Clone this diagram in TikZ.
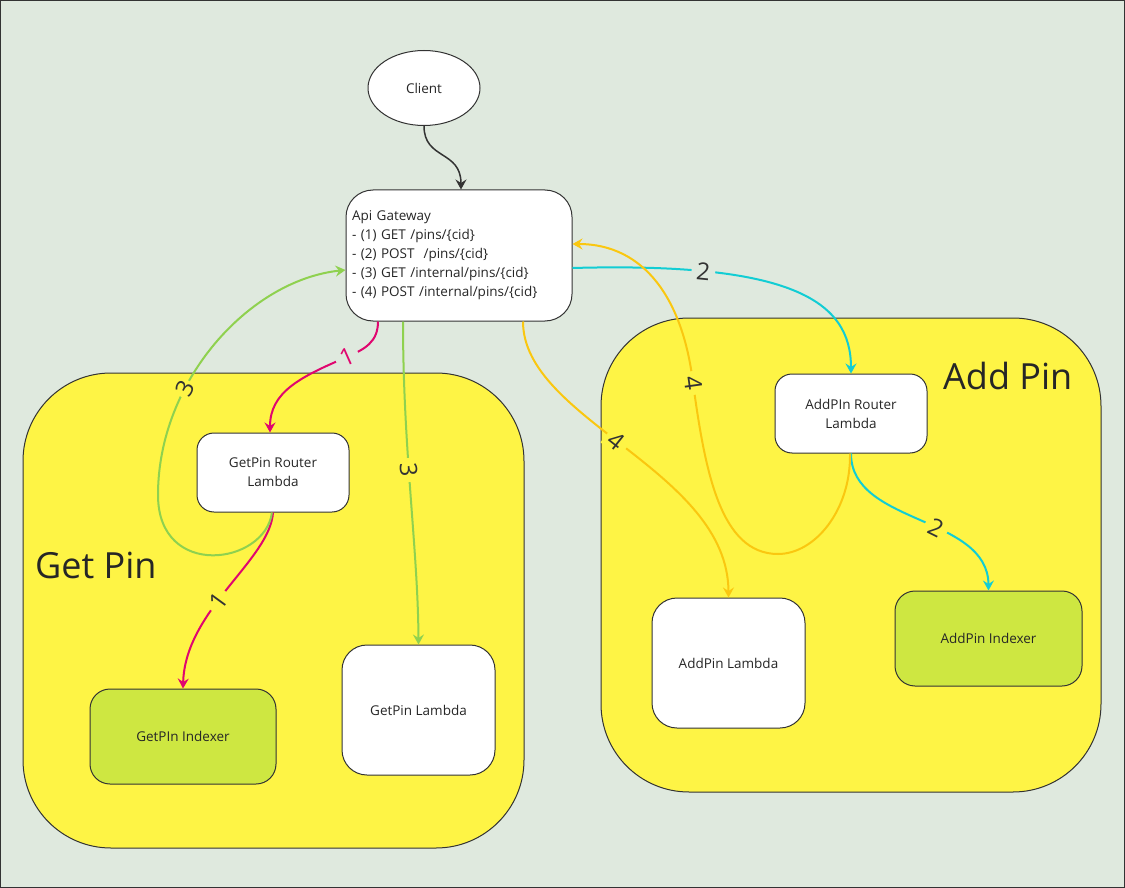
\documentclass[tikz,border=0pt]{standalone}
\usepackage{fontspec}
\setmainfont{Open Sans}
\usetikzlibrary{arrows.meta,shapes.geometric}
\definecolor{bggreen}{HTML}{DFE9DE}
\definecolor{groupyellow}{HTML}{FEF445}
\definecolor{indexgreen}{HTML}{CEE741}
\definecolor{flowpink}{HTML}{E0066F}
\definecolor{flowgreen}{HTML}{8FD14F}
\definecolor{flowcyan}{HTML}{12CDD4}
\definecolor{floworange}{HTML}{FAC710}
\definecolor{edgegrey}{HTML}{333333}
\begin{document}
\begin{tikzpicture}[x=1pt,y=-1pt,
	box/.style={draw=edgegrey,line width=1pt,fill=white,rounded corners=17pt,align=center,text=black!85,font=\fontsize{13.5}{19}\selectfont,inner sep=0pt},
	group/.style={draw=edgegrey,line width=1pt,fill=groupyellow,rounded corners=88pt},
	flow/.style={line width=2pt,-{Stealth[length=10pt,width=11pt,inset=3.5pt]}},
	lbl/.style={font=\fontsize{24}{24}\selectfont,text=edgegrey,fill=groupyellow,inner xsep=5pt,inner ysep=2pt,sloped}]
	\useasboundingbox (0,0) rectangle (1125,888);
	\draw[fill=bggreen,draw=edgegrey,line width=1.5pt] (0,0) rectangle (1125,888);
	% groups
	\draw[group] (23,373) rectangle (524,848);
	\draw[group] (601,318) rectangle (1101,792);
	\node[anchor=base west,inner sep=0pt,font=\fontsize{36}{36}\selectfont,text=black!85] at (35,578) (getlabel) {Get Pin};
	\node[anchor=base west,inner sep=0pt,font=\fontsize{36}{36}\selectfont,text=black!85] at (943,389) (addlabel) {Add Pin};
	% nodes
	\node[ellipse,draw=edgegrey,fill=white,line width=1pt,minimum width=112pt,minimum height=75pt,text=black!85,font=\fontsize{13.5}{19}\selectfont] at (424,88) (client) {Client};
	\node[box,rounded corners=27pt,text width=214pt,minimum height=131pt,align=left,inner xsep=6pt] at (459,255.5) (gw) {Api Gateway\\- (1) GET /pins/\{cid\}\\- (2) POST \ /pins/\{cid\}\\- (3) GET /internal/pins/\{cid\}\\- (4) POST /internal/pins/\{cid\}};
	\node[box,minimum width=152pt,minimum height=79pt] at (273,472.5) (getrouter) {GetPin Router\\Lambda};
	\node[box,fill=indexgreen,rounded corners=20pt,minimum width=186pt,minimum height=95pt] at (183,736.5) (getindexer) {GetPIn Indexer};
	\node[box,rounded corners=25pt,minimum width=153pt,minimum height=130pt] at (418.5,710) (getlambda) {GetPin Lambda};
	\node[box,minimum width=152pt,minimum height=79pt] at (851,413.5) (addrouter) {AddPIn Router\\Lambda};
	\node[box,rounded corners=25pt,minimum width=153pt,minimum height=130pt] at (728.5,663) (addlambda) {AddPin Lambda};
	\node[box,fill=indexgreen,rounded corners=20pt,minimum width=187pt,minimum height=95pt] at (988.5,638.5) (addindexer) {AddPin Indexer};
	% connectors
	\draw[flow,edgegrey,line width=1.5pt] (client.south) .. controls (424,160) and (461,150) .. ([xshift=2pt]gw.north);
	\draw[flow,flowpink] ([xshift=-81pt]gw.south) .. controls (378,342) and (365,349) .. node[lbl,pos=1,fill=bggreen,text=flowpink] {1} (347,357) .. controls (300,377) and (270,392) .. ([xshift=-3pt]getrouter.north);
	\draw[flow,flowpink] (getrouter.south) .. controls (270,560) and (185,610) .. node[lbl,pos=0.57] {1} (getindexer.north);
	\draw[flow,flowgreen] ([xshift=-1pt]getrouter.south) .. controls (265,565) and (158,580) .. (158,495) .. controls (158,380) and (250,280) .. node[lbl,pos=0.33,inner xsep=2pt,inner ysep=1pt] {3} ([yshift=-14.5pt]gw.west);
	\draw[flow,flowgreen] ([xshift=-56pt]gw.south) .. controls (403,450) and (418,550) .. node[lbl,pos=0.42] {3} (getlambda.north);
	\draw[flow,flowcyan] ([yshift=-12.5pt]gw.east) .. controls (790,262) and (851,300) .. node[lbl,pos=0.24,fill=bggreen] {2} (addrouter.north);
	\draw[flow,flowcyan] (addrouter.south) .. controls (851,525) and (988,515) .. node[lbl,pos=0.58] {2} (addindexer.north);
	\draw[flow,floworange] ([xshift=64pt]gw.south) .. controls (523,420) and (728,470) .. node[lbl,pos=0.47] {4} (addlambda.north);
	\draw[flow,floworange] ([xshift=-1pt]addrouter.south) .. controls (851,510) and (815,554) .. (778,554) .. controls (720,554) and (705,470) .. node[lbl,pos=1] {4} (693,383) .. controls (683,300) and (645,244) .. ([yshift=11.5pt]gw.east);
\end{tikzpicture}
\end{document}
